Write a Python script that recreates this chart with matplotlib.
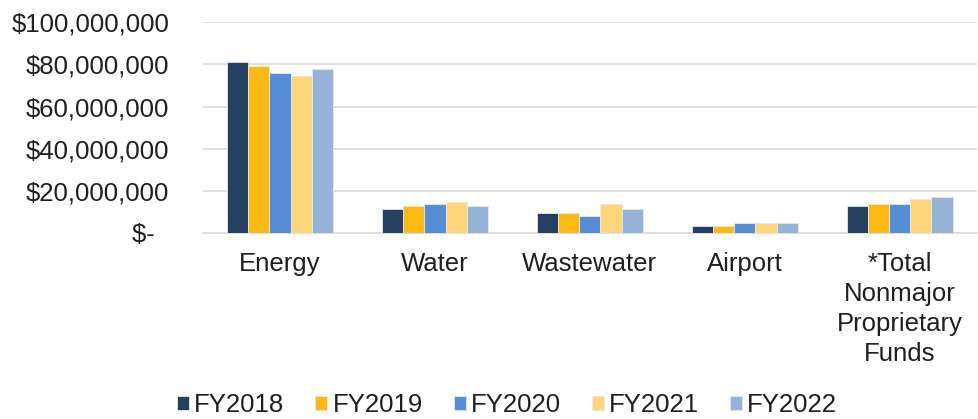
import matplotlib
matplotlib.use("Agg")
import matplotlib.pyplot as plt
import numpy as np
from matplotlib.ticker import FuncFormatter

plt.rcParams['font.family'] = ['Liberation Sans', 'DejaVu Sans']

categories = ["Energy", "Water", "Wastewater", "Airport",
              "*Total\nNonmajor\nProprietary\nFunds"]
years = ["FY2018", "FY2019", "FY2020", "FY2021", "FY2022"]
colors = ["#243F60", "#FDB913", "#558ED5", "#FFD579", "#95B3D7"]

# values in dollars
fy2018 = [81.3e6, 11.5e6, 9.3e6, 3.3e6, 12.6e6]
fy2019 = [79.2e6, 12.6e6, 9.3e6, 3.5e6, 13.7e6]
fy2020 = [75.7e6, 13.7e6, 7.9e6, 4.9e6, 13.7e6]
fy2021 = [74.4e6, 14.8e6, 13.7e6, 4.7e6, 15.9e6]
fy2022 = [77.8e6, 12.6e6, 11.5e6, 4.9e6, 17.0e6]
series = [fy2018, fy2019, fy2020, fy2021, fy2022]

fig = plt.figure(figsize=(9.79, 4.19), dpi=100)
ax = fig.add_axes([0.207, 0.444, 0.791, 0.503])

x = np.arange(len(categories))
w = 0.137
for i, vals in enumerate(series):
    ax.bar(x + (i - 2) * w, vals, w, color=colors[i], label=years[i],
           edgecolor="#E8E8E8", linewidth=0.6, zorder=3)

ax.set_xlim(-0.5, len(categories) - 0.5)
ax.set_ylim(0, 100e6)
ax.set_yticks(np.arange(0, 100e6 + 1, 20e6))


def money(v, pos):
    # accounting style: zero shows as a dash
    if v == 0:
        return "$-  "
    return "${:,.0f}".format(v)


ax.yaxis.set_major_formatter(FuncFormatter(money))
ax.grid(axis="y", color="#D9D9D9", linewidth=1.2, zorder=0)
for s in ["top", "right", "left"]:
    ax.spines[s].set_visible(False)
ax.spines["bottom"].set_color("#D9D9D9")
ax.spines["bottom"].set_linewidth(1.2)

ax.set_xticks(x)
ax.set_xticklabels(categories, linespacing=1.3)
ax.tick_params(axis="both", length=0, labelsize=18.5, labelcolor="#1F1F1F")
ax.tick_params(axis="x", pad=14)
ax.tick_params(axis="y", pad=24)

fig.legend(loc="lower center", bbox_to_anchor=(507 / 979, -0.05), ncol=5,
           frameon=False, fontsize=18.5, handlelength=0.47, handleheight=0.47,
           handletextpad=0.2, columnspacing=1.2, labelcolor="#1F1F1F")

fig.savefig("out.png", dpi=100)
